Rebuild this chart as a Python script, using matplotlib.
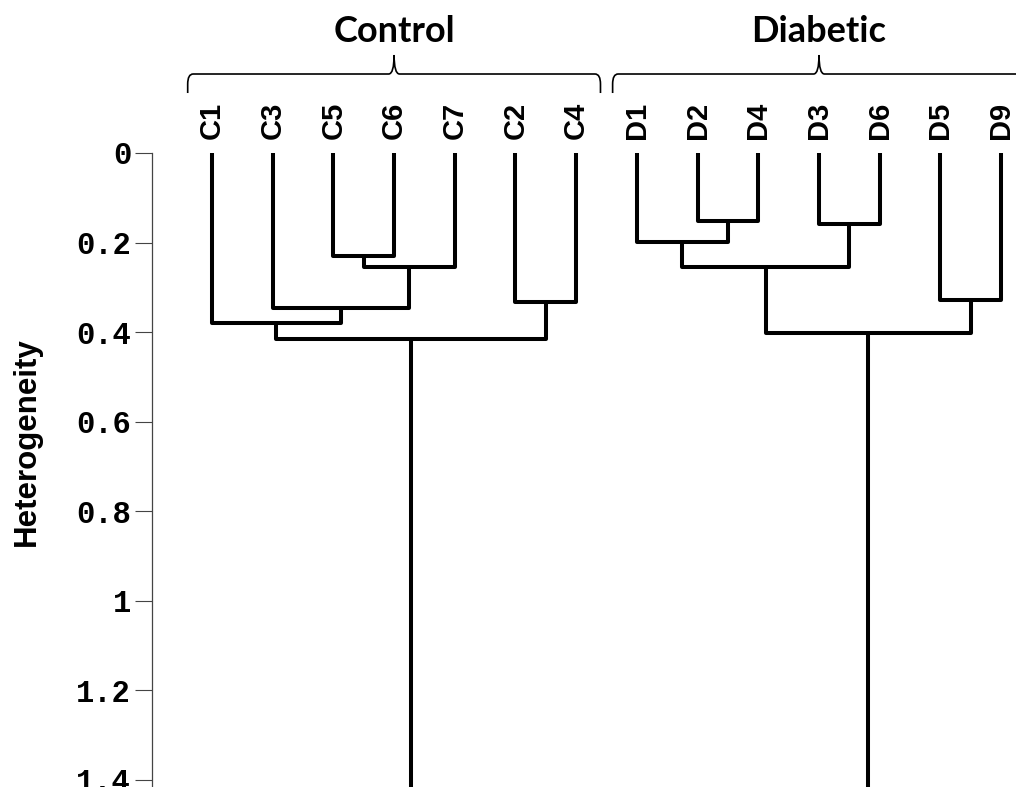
import matplotlib
matplotlib.use("Agg")
import matplotlib.pyplot as plt
from matplotlib.path import Path
from matplotlib.patches import PathPatch
from matplotlib.transforms import blended_transform_factory
import numpy as np

# leaf order along the x axis
leaves = ['C1', 'C3', 'C5', 'C6', 'C7', 'C2', 'C4',
          'D1', 'D2', 'D4', 'D3', 'D6', 'D5', 'D9']

# merges like a linkage matrix: node ids 0..13 are leaves, new nodes from 14 on
merge_left = [8, 10, 7, 2, 17, 16, 12, 5, 1, 0, 19, 23]
merge_right = [9, 11, 14, 3, 4, 15, 13, 6, 18, 22, 20, 21]
merge_height = [0.151, 0.159, 0.198, 0.229, 0.254, 0.254,
                0.328, 0.333, 0.346, 0.380, 0.401, 0.415]

groups = ['Control', 'Diabetic']
group_first = [0, 7]
group_last = [6, 13]

y_ticks = [0, 0.2, 0.4, 0.6, 0.8, 1.0, 1.2, 1.4]
y_max = 1.416

fig = plt.figure(figsize=(10.16, 7.87), dpi=100)
ax = fig.add_axes([152 / 1016, 0.0, 1 - 152 / 1016, 1 - 153 / 787])

# walk the merges, keep x position and height of every node
node_x = {i: float(i) for i in range(len(leaves))}
node_h = {i: 0.0 for i in range(len(leaves))}
for k, (a, b, h) in enumerate(zip(merge_left, merge_right, merge_height)):
    xa, xb = node_x[a], node_x[b]
    ax.plot([xa, xa, xb, xb], [node_h[a], h, h, node_h[b]],
            color='black', lw=2.9, solid_joinstyle='round',
            solid_capstyle='butt')
    node_x[len(leaves) + k] = (xa + xb) / 2
    node_h[len(leaves) + k] = h

# the two top clusters only join below the plotted range
used = set(merge_left) | set(merge_right)
roots = [n for n in node_x if n not in used]
for r in roots:
    ax.plot([node_x[r], node_x[r]], [node_h[r], y_max + 0.1],
            color='black', lw=2.9, solid_capstyle='butt')

ax.set_xlim(-0.988, 13.245)
ax.set_ylim(y_max, 0)

for s in ['top', 'right', 'bottom']:
    ax.spines[s].set_visible(False)
ax.spines['left'].set_color('#444444')
ax.spines['left'].set_linewidth(0.9)

ax.set_yticks(y_ticks)
ax.set_yticklabels(['%g' % t for t in y_ticks], family='Liberation Mono',
                   fontweight='bold', fontsize=22)
ax.tick_params(axis='y', length=12, width=0.8, color='#444444', pad=3)

ax.xaxis.tick_top()
ax.set_xticks(range(len(leaves)))
ax.set_xticklabels(leaves, rotation=90, family='Liberation Sans',
                   fontweight='bold', fontsize=21)
ax.tick_params(axis='x', length=0, pad=10)

fig.text(27 / 1016, 1 - 442 / 787, 'Heterogeneity', rotation=90,
         ha='center', va='center', family='Liberation Sans',
         fontweight='bold', fontsize=22.5)

# curly braces over the two groups
tr = blended_transform_factory(ax.transData, ax.transAxes)
y_base, y_bar, y_tip = 1.0946, 1.1246, 1.1546
rx, ry = 0.09, 0.016
for name, i0, i1 in zip(groups, group_first, group_last):
    x0, x1 = i0 - 0.4, i1 + 0.4
    xm = (i0 + i1) / 2
    verts = [(x0, y_base), (x0, y_bar - ry), (x0, y_bar), (x0 + rx, y_bar),
             (xm - rx, y_bar), (xm, y_bar), (xm, y_tip),
             (xm, y_bar), (xm + rx, y_bar),
             (x1 - rx, y_bar), (x1, y_bar), (x1, y_bar - ry), (x1, y_base)]
    codes = [Path.MOVETO, Path.LINETO, Path.CURVE3, Path.CURVE3,
             Path.LINETO, Path.CURVE3, Path.CURVE3,
             Path.CURVE3, Path.CURVE3,
             Path.LINETO, Path.CURVE3, Path.CURVE3, Path.LINETO]
    ax.add_patch(PathPatch(Path(verts, codes), transform=tr, fill=False,
                           lw=1.2, edgecolor='black', clip_on=False))
    ax.text(xm, 1.192, name, transform=tr, ha='center', va='center',
            family='Lato', fontweight='bold', fontsize=26)

fig.savefig('out.png', dpi=100)
